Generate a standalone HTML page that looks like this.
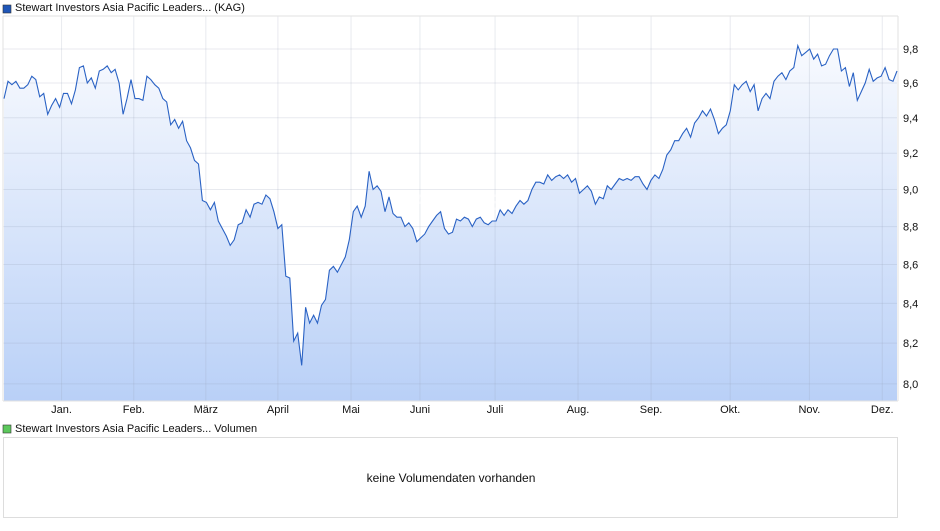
<!DOCTYPE html>
<html><head><meta charset="utf-8"><style>
html,body{margin:0;padding:0;background:#fff;}
body{width:940px;height:526px;overflow:hidden;font-family:"Liberation Sans",sans-serif;}
svg text{font-family:"Liberation Sans",sans-serif;}
</style></head><body>
<svg id="chart" width="940" height="526" viewBox="0 0 940 526">
<defs>
<linearGradient id="fillg" x1="0" y1="0" x2="0" y2="1">
<stop offset="0" stop-color="#f8fafe"/>
<stop offset="1" stop-color="#b9d0f7"/>
</linearGradient>
</defs>
<rect x="3" y="5" width="8" height="8" fill="#1f56b8" stroke="#333" stroke-width="0.6"/>
<text x="15" y="11" font-size="11" fill="#111">Stewart Investors Asia Pacific Leaders... (KAG)</text>
<path id="area" fill="url(#fillg)"/>
<g id="grid2"></g>
<path id="line" fill="none" stroke="#2a62c4" stroke-width="1.1"/>
<text x="450" y="210" font-size="22" font-weight="bold" font-style="italic" fill="#fff" fill-opacity="0.45" text-anchor="middle">ARIVA.DE</text>
<line x1="3" y1="16" x2="898" y2="16" stroke="#e2e2e2"/>
<line x1="898" y1="16" x2="898" y2="401" stroke="#e2e2e2"/>
<line x1="3" y1="16" x2="3" y2="401" stroke="#e2e2e2"/>
<line x1="3" y1="401" x2="898" y2="401" stroke="#e2e2e2"/>
<g id="yticks"></g>
<g id="xticks"></g>
<rect x="3" y="425" width="8" height="8" fill="#5cc85c" stroke="#333" stroke-width="0.6"/>
<text x="15" y="432" font-size="11" fill="#111">Stewart Investors Asia Pacific Leaders... Volumen</text>
<rect x="3.5" y="437.5" width="894" height="80" fill="#fff" stroke="#ddd"/>
<text x="451" y="482" font-size="12" fill="#111" text-anchor="middle">keine Volumendaten vorhanden</text>
</svg>
<script>
const prices = [9.51,9.61,9.59,9.61,9.57,9.57,9.59,9.64,9.62,9.52,9.54,9.42,9.47,9.51,9.46,9.54,9.54,9.48,9.56,9.69,9.70,9.60,9.63,9.57,9.67,9.68,9.70,9.66,9.68,9.60,9.42,9.51,9.62,9.51,9.51,9.50,9.64,9.62,9.59,9.57,9.51,9.49,9.36,9.39,9.34,9.38,9.27,9.23,9.16,9.14,8.94,8.93,8.89,8.93,8.83,8.79,8.75,8.70,8.73,8.81,8.82,8.89,8.85,8.92,8.93,8.92,8.97,8.95,8.88,8.79,8.81,8.54,8.53,8.21,8.25,8.09,8.38,8.30,8.34,8.30,8.39,8.42,8.57,8.59,8.56,8.60,8.64,8.73,8.88,8.91,8.85,8.91,9.10,9.00,9.02,8.99,8.88,8.96,8.87,8.85,8.85,8.80,8.82,8.79,8.72,8.74,8.76,8.80,8.83,8.86,8.88,8.79,8.76,8.77,8.84,8.83,8.85,8.84,8.80,8.84,8.85,8.82,8.81,8.83,8.83,8.89,8.86,8.89,8.87,8.91,8.94,8.92,8.94,9.00,9.04,9.04,9.03,9.08,9.05,9.07,9.08,9.06,9.08,9.04,9.06,8.98,9.00,9.02,8.99,8.92,8.96,8.95,9.02,9.00,9.03,9.06,9.05,9.06,9.05,9.07,9.07,9.03,9.00,9.05,9.08,9.06,9.11,9.19,9.22,9.27,9.27,9.31,9.34,9.29,9.37,9.40,9.44,9.41,9.45,9.39,9.31,9.34,9.36,9.44,9.59,9.56,9.59,9.61,9.55,9.59,9.44,9.51,9.54,9.51,9.61,9.64,9.66,9.62,9.67,9.69,9.82,9.76,9.78,9.80,9.74,9.77,9.70,9.71,9.76,9.80,9.80,9.67,9.69,9.58,9.66,9.50,9.55,9.60,9.68,9.61,9.63,9.64,9.69,9.62,9.61,9.67];
const yTicks = [8.0,8.2,8.4,8.6,8.8,9.0,9.2,9.4,9.6,9.8];
const yTickLabels = ["8,0","8,2","8,4","8,6","8,8","9,0","9,2","9,4","9,6","9,8"];
const months = ["Jan.","Feb.","März","April","Mai","Juni","Juli","Aug.","Sep.","Okt.","Nov.","Dez."];
const monthPos = [0.0655,0.1463,0.2269,0.3075,0.3893,0.4664,0.5504,0.6432,0.7249,0.8134,0.9020,0.9835];

const X0=4, X1=897, PL=3, PR=897, PB=401;
function xScale(i){ return X0 + i*(X1-X0)/(prices.length-1); }
function xFrac(f){ return PL + f*(PR-PL); }
function yScale(v){ return 49 + 1650*(Math.log(9.8)-Math.log(v)); }
const NS="http://www.w3.org/2000/svg";

let d="";
prices.forEach((v,i)=>{ d += (i?"L":"M")+xScale(i).toFixed(1)+","+yScale(v).toFixed(1); });
document.getElementById('line').setAttribute('d',d);
document.getElementById('area').setAttribute('d',d+"L"+xScale(prices.length-1)+","+PB+"L"+xScale(0)+","+PB+"Z");

const g2=document.getElementById('grid2');
const yt=document.getElementById('yticks');
yTicks.forEach((t,i)=>{
  const y=yScale(t);
  const l=document.createElementNS(NS,'line');
  l.setAttribute('x1',3);l.setAttribute('x2',897);l.setAttribute('y1',y);l.setAttribute('y2',y);
  l.setAttribute('stroke','rgba(150,160,180,0.22)');
  
  
  g2.appendChild(l);
  const tx=document.createElementNS(NS,'text');
  tx.setAttribute('x',903);tx.setAttribute('y',y+4);tx.setAttribute('font-size','11');tx.setAttribute('fill','#111');
  tx.textContent=yTickLabels[i];
  
  
  yt.appendChild(tx);
});
const xt=document.getElementById('xticks');
months.forEach((m,i)=>{
  const x=xFrac(monthPos[i]);
  const l=document.createElementNS(NS,'line');
  l.setAttribute('x1',x);l.setAttribute('x2',x);l.setAttribute('y1',16);l.setAttribute('y2',PB);
  l.setAttribute('stroke','rgba(150,160,180,0.22)');
  
  
  g2.appendChild(l);
  const tx=document.createElementNS(NS,'text');
  tx.setAttribute('x',x);tx.setAttribute('y',413);tx.setAttribute('font-size','11');tx.setAttribute('fill','#111');
  tx.setAttribute('text-anchor','middle');
  tx.textContent=m;
  
  
  xt.appendChild(tx);
});
</script>
</body></html>
